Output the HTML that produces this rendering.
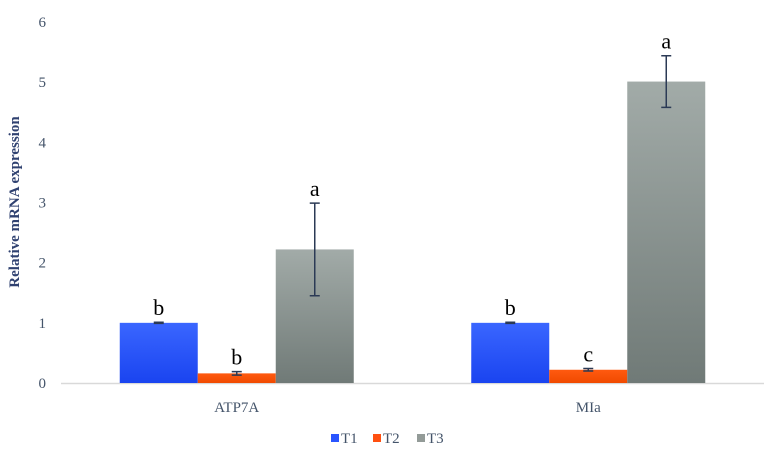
<!DOCTYPE html>
<html><head><meta charset="utf-8"><style>
body{margin:0;background:#fff;}
svg text{font-family:"Liberation Serif","Times New Roman",serif !important;}
</style></head><body>
<svg width="767" height="453" xmlns="http://www.w3.org/2000/svg" font-family="Liberation Serif, serif">
<defs>
<linearGradient id="g1" x1="0" y1="0" x2="0" y2="1"><stop offset="0" stop-color="#3a66ff"/><stop offset="1" stop-color="#1a44f0"/></linearGradient>
<linearGradient id="g2" x1="0" y1="0" x2="0" y2="1"><stop offset="0" stop-color="#ff5a10"/><stop offset="1" stop-color="#f04a00"/></linearGradient>
<linearGradient id="g3" x1="0" y1="0" x2="0" y2="1"><stop offset="0" stop-color="#a2aba8"/><stop offset="1" stop-color="#707a77"/></linearGradient>
</defs>
<g id="plot"></g>
</svg>
<script>
const categories=["ATP7A","MIa"];
const seriesNames=["T1","T2","T3"];
const t1=[1,1];
const t2=[0.16,0.22];
const t3=[2.22,5.01];
const t1Err=[0.01,0.01];
const t2Err=[0.03,0.02];
const t3Err=[0.77,0.43];
const t1Letters=["b","b"];
const t2Letters=["b","c"];
const t3Letters=["a","a"];
const yTicks=[0,1,2,3,4,5,6];
const NS="http://www.w3.org/2000/svg";
const g=document.getElementById('plot');
const x0=61,x1=764,y0=383,yTop=22,ymax=6;
const y=v=>y0-(v/ymax)*(y0-yTop);
const catW=(x1-x0)/categories.length;
const barW=78;
const fills=["url(#g1)","url(#g2)","url(#g3)"];
function mk(tag,attrs,text){const e=document.createElementNS(NS,tag);for(const k in attrs)e.setAttribute(k,attrs[k]);if(tag==='text')e.setAttribute('font-family','Liberation Serif, serif');if(text!==undefined)e.textContent=text;g.appendChild(e);return e;}
yTicks.forEach(t=>{
 const e=mk('text',{x:46,y:y(t)+5,'text-anchor':'end','font-size':15,fill:'#44546a'},t);
 
 
});
const ax=mk('line',{x1:x0,x2:x1,y1:y0+0.5,y2:y0+0.5,stroke:'#d9d9d9','stroke-width':1.5});


const vals=[t1,t2,t3],errs=[t1Err,t2Err,t3Err],lets=[t1Letters,t2Letters,t3Letters];
categories.forEach((c,i)=>{
 const cx=x0+catW*(i+0.5);
 const lbl=mk('text',{x:cx,y:412,'text-anchor':'middle','font-size':15,fill:'#44546a'},c);
 
 
 for(let s=0;s<3;s++){
  const bx=cx-1.5*barW+s*barW;
  const v=vals[s][i];
  const r=mk('rect',{x:bx,y:y(v),width:barW,height:y0-y(v),fill:fills[s]});
  
  
  const mx=bx+barW/2,e=errs[s][i];
  const eb=mk('path',{d:`M${mx},${y(v+e)}V${y(v-e)}M${mx-5},${y(v+e)}H${mx+5}M${mx-5},${y(v-e)}H${mx+5}`,stroke:'#2b3a55','stroke-width':1.5,fill:'none'});
  
  
  const t=mk('text',{x:mx,y:y(v+e)-7,'text-anchor':'middle','font-size':22,fill:'#000'},lets[s][i]);
  
  
 }
});
const yt=mk('text',{x:0,y:0,transform:'translate(19,202) rotate(-90)','text-anchor':'middle','font-size':15,'font-weight':'bold',fill:'#2f4170'},'Relative mRNA expression');


const lx=[331,373,417],lc=['#2a55ff','#ff5010','#939b98'];
seriesNames.forEach((n,i)=>{
 const sq=mk('rect',{x:lx[i],y:434,width:8,height:8,fill:lc[i]});
 
 
 const tx=mk('text',{x:lx[i]+10,y:443,'font-size':15,fill:'#44546a'},n);
 
 
});
</script>
</body></html>
